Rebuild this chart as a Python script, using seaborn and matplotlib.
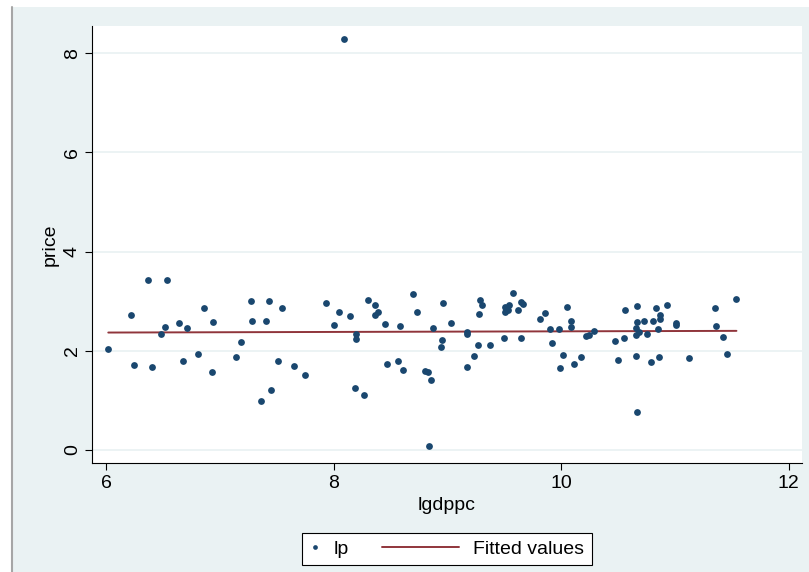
import numpy as np
import pandas as pd
import matplotlib
matplotlib.use("Agg")
import matplotlib.pyplot as plt
import seaborn as sns
from matplotlib.lines import Line2D
from matplotlib.patches import Rectangle
from matplotlib.legend_handler import HandlerLine2D

# ---- data ----
lgdppc = [6.02, 6.22, 6.25, 6.37, 6.40, 6.48, 6.52, 6.54, 6.64, 6.68,
          6.71, 6.81, 6.86, 6.93, 6.94, 7.14, 7.19, 7.27, 7.28, 7.36,
          7.41, 7.43, 7.45, 7.51, 7.55, 7.65, 7.75, 7.93, 8.00, 8.05,
          8.14, 8.19, 8.20, 8.20, 8.27, 8.30, 8.36, 8.36, 8.39, 8.45,
          8.47, 8.57, 8.58, 8.61, 8.70, 8.73, 8.80, 8.83, 8.84, 8.86,
          8.87, 8.95, 8.94, 8.96, 9.03, 9.17, 9.17, 9.17, 9.23, 9.27,
          9.28, 9.29, 9.30, 9.37, 9.50, 9.51, 9.51, 9.53, 9.54, 9.58,
          9.62, 9.65, 9.65, 9.66, 9.81, 9.86, 9.90, 9.92, 9.98, 9.99,
          10.02, 10.05, 10.09, 10.09, 10.11, 10.17, 10.22, 10.24, 10.29, 10.47,
          10.50, 10.55, 10.56, 10.66, 10.66, 10.66, 10.67, 10.67, 10.67, 10.68,
          10.73, 10.75, 10.79, 10.81, 10.83, 10.85, 10.86, 10.87, 10.87, 10.93,
          11.01, 11.01, 11.12, 11.35, 11.36, 11.42, 11.46, 11.54, 8.09]
price = [2.03, 2.72, 1.71, 3.43, 1.67, 2.33, 2.47, 3.43, 2.57, 1.79,
         2.45, 1.94, 2.86, 1.57, 2.59, 1.88, 2.18, 3.00, 2.60, 0.98,
         2.60, 3.00, 1.20, 1.80, 2.87, 1.69, 1.51, 2.96, 2.52, 2.78,
         2.71, 1.24, 2.34, 2.24, 1.11, 3.03, 2.93, 2.73, 2.79, 2.54,
         1.73, 1.79, 2.50, 1.62, 3.15, 2.78, 1.60, 1.57, 0.09, 1.41,
         2.46, 2.22, 2.08, 2.97, 2.57, 2.38, 2.33, 1.67, 1.89, 2.12,
         2.74, 3.02, 2.93, 2.11, 2.26, 2.89, 2.79, 2.82, 2.92, 3.17,
         2.82, 2.26, 2.99, 2.95, 2.64, 2.76, 2.44, 2.16, 2.43, 1.65,
         1.92, 2.89, 2.60, 2.47, 1.74, 1.88, 2.30, 2.32, 2.39, 2.19,
         1.81, 2.26, 2.82, 2.32, 1.89, 2.46, 2.90, 2.58, 0.77, 2.38,
         2.61, 2.33, 1.78, 2.61, 2.86, 2.43, 1.87, 2.72, 2.64, 2.92,
         2.57, 2.53, 1.85, 2.87, 2.51, 2.28, 1.94, 3.05, 8.29]
x_ticks = [6, 8, 10, 12]
y_ticks = [0, 2, 4, 6, 8]
legend_labels = ["lp", "Fitted values"]

df = pd.DataFrame({"lgdppc": lgdppc, "price": price})

BG = "#EAF2F3"
NAVY = "#1A476F"
MAROON = "#90353B"
FS = 14

sns.set_theme(style="white")
plt.rcParams["font.family"] = ["Liberation Sans", "DejaVu Sans"]

W, H = 809, 572
fig = plt.figure(figsize=(W / 100, H / 100), dpi=100, facecolor="white")
fig.patches.append(Rectangle((12 / W, 0), 1 - 12 / W, (H - 7) / H,
                             transform=fig.transFigure, facecolor=BG,
                             edgecolor="none", zorder=-10))
fig.add_artist(Line2D([11.5 / W, 11.5 / W], [0, (H - 7) / H],
                      transform=fig.transFigure, color="#A6A6A6", lw=1.5,
                      zorder=-5))

ax = fig.add_axes([92 / W, 109 / H, 710 / W, 437 / H])
ax.set_facecolor("white")

sns.scatterplot(data=df, x="lgdppc", y="price", ax=ax, s=24, color=NAVY,
                linewidth=0, zorder=3, legend=False)
sns.regplot(data=df, x="lgdppc", y="price", ax=ax, scatter=False, ci=None,
            truncate=True, line_kws=dict(color=MAROON, lw=1.4, zorder=2))

ax.set_xlim(5.877, 12.116)
ax.set_ylim(-0.262, 8.548)
ax.set_xticks(x_ticks)
ax.set_yticks(y_ticks)
ax.grid(axis="y", color=BG, lw=1.3)
ax.grid(axis="x", visible=False)
ax.set_axisbelow(True)
for s in ["top", "right"]:
    ax.spines[s].set_visible(False)
for s in ["left", "bottom"]:
    ax.spines[s].set_color("black")
    ax.spines[s].set_linewidth(0.8)
ax.tick_params(axis="both", direction="out", length=5, width=0.8,
               color="black", labelsize=FS, labelcolor="black",
               bottom=True, left=True)
ax.tick_params(axis="x", pad=4)
ax.tick_params(axis="y", pad=3)
for lab in ax.get_yticklabels():
    lab.set_rotation(90)
    lab.set_va("center")
ax.set_xlabel("lgdppc", fontsize=FS, labelpad=3, color="black")
ax.set_ylabel("price", fontsize=FS, labelpad=4, color="black")


class LongLine(HandlerLine2D):
    def __init__(self, extra, **kw):
        super().__init__(**kw)
        self.extra = extra

    def get_xdata(self, legend, xdescent, ydescent, width, height, fontsize):
        x0 = -xdescent - self.extra
        x1 = -xdescent + width
        return np.array([x0, x1]), np.array([(x0 + x1) / 2])


h_lp = Line2D([], [], ls="none", marker="o", ms=3.4, mew=0, color=NAVY)
h_fit = Line2D([], [], color=MAROON, lw=1.4)
leg = fig.legend(handles=[h_lp, h_fit], labels=legend_labels, loc="center",
                 bbox_to_anchor=(447 / W, 23 / H), ncol=2, frameon=True,
                 fancybox=False, edgecolor="black", facecolor="white",
                 framealpha=1, fontsize=FS, handlelength=0.5,
                 handletextpad=0.71, columnspacing=5.2, borderpad=0.39,
                 handler_map={h_fit: LongLine(extra=48.7)})
leg.get_frame().set_linewidth(0.8)
for t in leg.get_texts():
    t.set_color("black")

fig.savefig("out.png", dpi=100, facecolor=fig.get_facecolor())
